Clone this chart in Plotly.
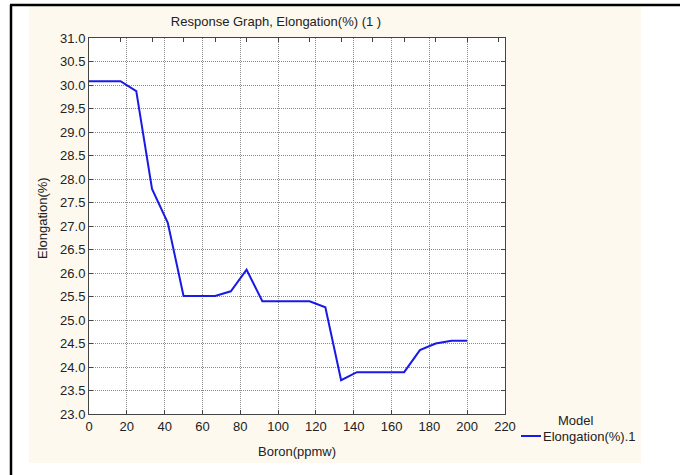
import plotly.graph_objects as go

# Boron (ppmw) grid of the model and predicted Elongation(%)
boron = [0, 8.33, 16.67, 25, 33.33, 41.67, 50, 58.33, 66.67, 75, 83.33, 91.67, 100,
         108.33, 116.67, 125, 133.33, 141.67, 150, 158.33, 166.67, 175, 183.33, 191.67, 200]
elongation = [30.08, 30.08, 30.08, 29.87, 27.79, 27.07, 25.51, 25.51, 25.51, 25.61, 26.07, 25.40, 25.40,
              25.40, 25.40, 25.27, 23.72, 23.89, 23.89, 23.89, 23.89, 24.36, 24.50, 24.56, 24.56]

x_ticks = [0, 20, 40, 60, 80, 100, 120, 140, 160, 180, 200, 220]
y_ticks = [23.0, 23.5, 24.0, 24.5, 25.0, 25.5, 26.0, 26.5, 27.0, 27.5, 28.0, 28.5, 29.0, 29.5, 30.0, 30.5, 31.0]

FONT = "Liberation Sans, Arial, sans-serif"
CREAM = "#fdf9ef"
BLUE = "#1a1ae6"
TXT = "#222"

# plot area in pixels: x 89..505, y 38..414
L, R, T, B = 89, 505, 38, 414
W, H = 680, 475
def px(x): return (x - L) / (R - L)
def py(y): return (B - y) / (B - T)

fig = go.Figure()
fig.add_trace(go.Scatter(x=boron, y=elongation, mode="lines", name="Elongation(%).1",
                         line=dict(color=BLUE, width=2), showlegend=False))
# dummy trace to carry the top tick axis
fig.add_trace(go.Scatter(x=boron, y=elongation, mode="lines", xaxis="x2", line=dict(width=0),
                         opacity=0, hoverinfo="skip", showlegend=False))

shapes = [
    dict(type="rect", xref="paper", yref="paper", x0=px(29), x1=px(641), y0=py(463), y1=py(6),
         fillcolor=CREAM, line_width=0, layer="below"),
    dict(type="rect", xref="paper", yref="paper", x0=0, x1=1, y0=0, y1=1,
         fillcolor="white", line_width=0, layer="below"),
    dict(type="line", xref="paper", yref="paper", x0=px(10), x1=px(680), y0=py(5), y1=py(5),
         line=dict(color="black", width=2.5)),
    dict(type="line", xref="paper", yref="paper", x0=px(11), x1=px(11), y0=py(5), y1=py(480),
         line=dict(color="black", width=2.5)),
    # legend sample
    dict(type="line", xref="paper", yref="paper", x0=px(521), x1=px(541), y0=py(436), y1=py(436),
         line=dict(color=BLUE, width=2)),
]

annotations = [
    dict(text="Elongation(%)", xref="paper", yref="paper", x=px(42), y=py(218), textangle=-90,
         xanchor="center", yanchor="middle", showarrow=False, font=dict(size=13, color=TXT)),
    dict(text="Model", xref="paper", yref="paper", x=px(576), y=py(420),
         xanchor="center", yanchor="middle", showarrow=False, font=dict(size=13, color=TXT)),
    dict(text="Elongation(%).1", xref="paper", yref="paper", x=px(541), y=py(436), xanchor="left",
         yanchor="middle", showarrow=False, font=dict(size=13, color=TXT)),
]

axis_common = dict(showline=True, linecolor="#444", linewidth=1, showgrid=True, gridcolor="#8a8a8a",
                   gridwidth=1, griddash="1px,1px", ticks="inside", ticklen=4, tickcolor="#444",
                   tickfont=dict(size=13, color=TXT, family=FONT), zeroline=False)

fig.update_layout(
    width=W, height=H,
    margin=dict(l=L, r=W - R, t=T, b=H - B),
    paper_bgcolor="white", plot_bgcolor="white",
    font=dict(family=FONT, size=13, color=TXT),
    title=dict(text="Response Graph, Elongation(%) (1 )", x=px(276), xref="paper", xanchor="center",
               y=1 - 21 / H, yref="container", yanchor="middle", font=dict(size=13, color=TXT)),
    xaxis=dict(range=[0, 220], tickvals=x_ticks, mirror=True,
               title=dict(text="Boron(ppmw)", standoff=14, font=dict(size=13)), **axis_common),
    xaxis2=dict(range=[0, 220], overlaying="x", side="top", tickmode="linear", tick0=0, dtick=200 / 12,
                ticks="inside", ticklen=4, tickcolor="#444", showticklabels=False, showgrid=False,
                showline=False, zeroline=False),
    yaxis=dict(range=[23, 31], tickvals=y_ticks, tickformat=".1f", mirror="ticks", **axis_common),
    shapes=shapes,
    annotations=annotations,
    showlegend=False,
)

fig.write_html("out.html", config={"displayModeBar": False},
               post_script="document.body.style.margin='0';document.body.style.overflow='hidden';")
